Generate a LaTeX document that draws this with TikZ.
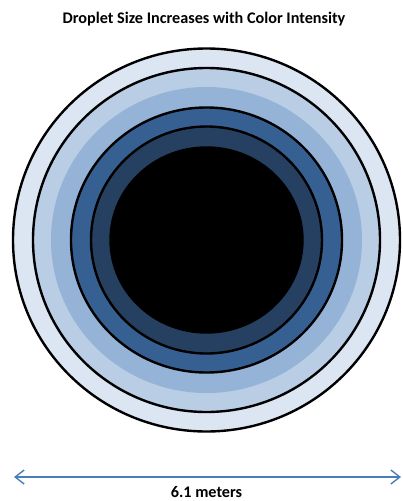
\documentclass[tikz,border=0pt]{standalone}
\usepackage{fontspec}
\setmainfont{Carlito}
\usetikzlibrary{arrows.meta}
\definecolor{ringA}{HTML}{DCE6F2}
\definecolor{ringB}{HTML}{B9CDE5}
\definecolor{ringC}{HTML}{95B3D7}
\definecolor{ringD}{HTML}{376092}
\definecolor{ringE}{HTML}{254061}
\definecolor{scaleblue}{HTML}{4A7EBB}
% one filled ring about the common centre: x radius, y radius, fill, outline
\newcommand{\ring}[4]{\filldraw[#4, fill=#3] (206.5,240) ellipse [x radius=#1, y radius=#2];}

\begin{document}
\begin{tikzpicture}[x=1pt, y=-1pt,
    edge/.style={draw=black, line width=2.4pt},
    caption/.style={font=\fontsize{16.2}{19}\selectfont\bfseries, inner sep=0pt},
    scale arrow/.style={draw=scaleblue, line width=1.4pt,
      {Straight Barb[length=9pt, width=14pt]}-{Straight Barb[length=9pt, width=14pt]}}]
  \useasboundingbox (0,0) rectangle (402,501);
  % ------------------------------------------------------------------ rings
  \ring{193.5}{191.5}{ringA}{edge}
  \ring{173.5}{172}{ringB}{edge}
  \ring{155.5}{153}{ringC}{draw=none}
  \ring{135.5}{132.5}{ringD}{edge}
  \ring{115.5}{113.5}{ringE}{edge}
  \ring{96}{92.5}{black}{edge}
  % ------------------------------------------------------------------ title and scale
  \node[caption] (title) at (204,19) {Droplet Size Increases with Color Intensity};
  \coordinate (west) at (14,477);
  \coordinate (east) at (401,477);
  \draw[scale arrow] (west) -- (east);
  \node[caption, anchor=base] (width) at (206.5,497.5) {6.1 meters};
\end{tikzpicture}
\end{document}
